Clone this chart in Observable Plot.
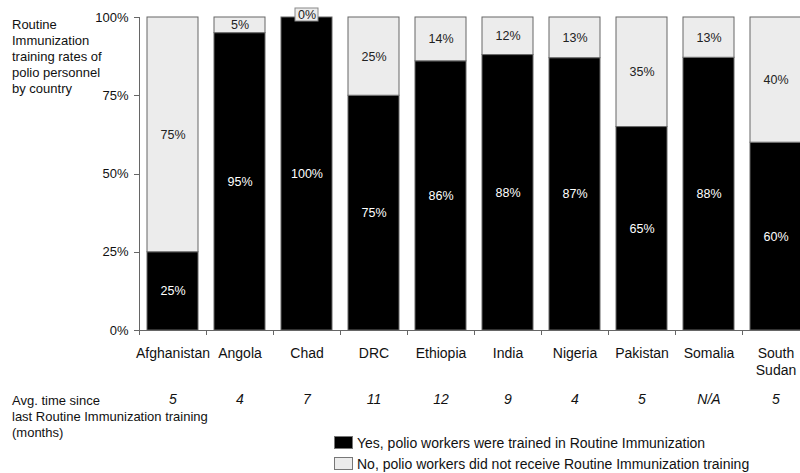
<!DOCTYPE html>
<html>
<head>
<meta charset="utf-8">
<script src="https://cdn.jsdelivr.net/npm/d3@7"></script>
<script src="https://cdn.jsdelivr.net/npm/@observablehq/plot@0.6"></script>
<style>
  html, body { margin: 0; padding: 0; background: #fff; overflow: hidden; }
  #wrap { position: relative; width: 800px; height: 473px; font-family: "Liberation Sans", Arial, sans-serif; color: #111; }
  #title { position: absolute; left: 12px; top: 17px; font-size: 13px; line-height: 16px; }
  #avglabel { position: absolute; left: 12px; top: 393px; font-size: 13px; line-height: 16px; }
  #legend { position: absolute; left: 334px; top: 433px; font-size: 14px; line-height: 21px; }
  .sw { display: inline-block; width: 17px; height: 11px; border: 1px solid #777; vertical-align: -1px; margin-right: 4px; }
</style>
</head>
<body>
<div id="wrap">
  <div id="chart"></div>
  <div id="title"></div>
  <div id="avglabel"></div>
  <div id="legend"></div>
</div>
<script>
const countries = ["Afghanistan", "Angola", "Chad", "DRC", "Ethiopia", "India", "Nigeria", "Pakistan", "Somalia", "South Sudan"];
const yesValues = [25, 95, 100, 75, 86, 88, 87, 65, 88, 60];
const noValues  = [75, 5, 0, 25, 14, 12, 13, 35, 13, 40];
const avgMonths = ["5", "4", "7", "11", "12", "9", "4", "5", "N/A", "5"];
const yTicks = [0, 0.25, 0.5, 0.75, 1];
const titleLines = ["Routine", "Immunization", "training rates of", "polio personnel", "by country"];
const avgLabelLines = ["Avg. time since", "last Routine Immunization training", "(months)"];
const legendLabels = {
  yes: "Yes, polio workers were trained in Routine Immunization",
  no: "No, polio workers did not receive Routine Immunization training"
};
const barColors = {yes: "#000000", no: "#ececec"};
const textColors = {yes: "#ffffff", no: "#222222"};

const data = countries.flatMap((c, i) => [
  {country: c, status: "yes", value: yesValues[i]},
  {country: c, status: "no", value: noValues[i]}
]);
const avgData = countries.map((c, i) => ({country: c, avg: avgMonths[i]}));

const font = "'Liberation Sans', Arial, sans-serif";

function axes(index, scales, values, dimensions) {
  const {x, y} = scales;
  const g = d3.create("svg:g").attr("stroke", "#666").attr("stroke-width", 1).attr("fill", "none");
  const step = x(countries[1]) - x(countries[0]);
  const bw = typeof x.bandwidth === "function" ? x.bandwidth() : x.bandwidth;
  const gap = (step - bw) / 2;
  const left = x(countries[0]) - gap;
  const y0 = y(0), y1 = y(1);
  g.append("line").attr("x1", left + 0.5).attr("x2", left + 0.5).attr("y1", y1).attr("y2", y0 + 5);
  for (const t of yTicks) {
    g.append("line").attr("x1", left - 5).attr("x2", left).attr("y1", Math.round(y(t)) + 0.5).attr("y2", Math.round(y(t)) + 0.5);
  }
  g.append("line").attr("x1", left).attr("x2", dimensions.width + 20).attr("y1", Math.round(y0) + 0.5).attr("y2", Math.round(y0) + 0.5);
  for (const c of countries) {
    const bx = Math.round(x(c) + bw + gap) + 0.5;
    g.append("line").attr("x1", bx).attr("x2", bx).attr("y1", y0).attr("y2", y0 + 5);
  }
  return g.node();
}

const stackOpts = {offset: "normalize"};

const chart = Plot.plot({
  width: 800,
  height: 473,
  marginTop: 17,
  marginBottom: 143,
  marginLeft: 139,
  marginRight: 0,
  style: {fontFamily: font, fontSize: "12.5px", background: "#fff", color: "#111"},
  x: {domain: countries, range: [139, 809], paddingInner: 0.24, paddingOuter: 0.12, axis: null},
  y: {domain: [0, 1], axis: null},
  color: {type: "identity"},
  marks: [
    Plot.barY(data, Plot.stackY(stackOpts, {
      x: "country", y: "value", z: "status",
      fill: d => barColors[d.status], stroke: "#666", strokeWidth: 1
    })),
    axes,
    Plot.barY(data, Plot.stackY(stackOpts, {
      x: "country", y: "value", z: "status",
      fill: d => d.value === 0 ? barColors.no : "none",
      stroke: d => d.value === 0 ? "#888" : "none",
      insetTop: -9, insetBottom: -4, insetLeft: 14, insetRight: 14
    })),
    Plot.text(data, Plot.stackY(stackOpts, {
      x: "country", y: "value", z: "status",
      text: d => d.value === 0 ? "" : d.value + "%",
      fill: d => textColors[d.status], fontSize: 12.5
    })),
    Plot.text(data, Plot.stackY(stackOpts, {
      x: "country", y: "value", z: "status",
      text: d => d.value === 0 ? d.value + "%" : "",
      fill: d => textColors[d.status], fontSize: 12.5, dy: -2.5
    })),
    Plot.text(yTicks, {
      y: d => d, text: d => Math.round(d * 100) + "%",
      frameAnchor: "left", textAnchor: "end", dx: -11, fontSize: 13, fill: "#111"
    }),
    Plot.text(countries, {
      x: d => d, text: d => d === "South Sudan" ? "South\nSudan" : d,
      frameAnchor: "bottom", lineAnchor: "top", dy: 16, fontSize: 14, lineHeight: 1.2, fill: "#111"
    }),
    Plot.text(avgData, {
      x: "country", text: "avg",
      frameAnchor: "bottom", dy: 73, fontSize: 14, fontStyle: "italic", fill: "#111"
    })
  ]
});
document.getElementById("chart").appendChild(chart);

document.getElementById("title").innerHTML = titleLines.join("<br>");
document.getElementById("avglabel").innerHTML = avgLabelLines.join("<br>");
document.getElementById("legend").innerHTML = ["yes", "no"].map(k =>
  `<div><span class="sw" style="background:${barColors[k]}"></span>${legendLabels[k]}</div>`
).join("");
</script>
</body>
</html>
